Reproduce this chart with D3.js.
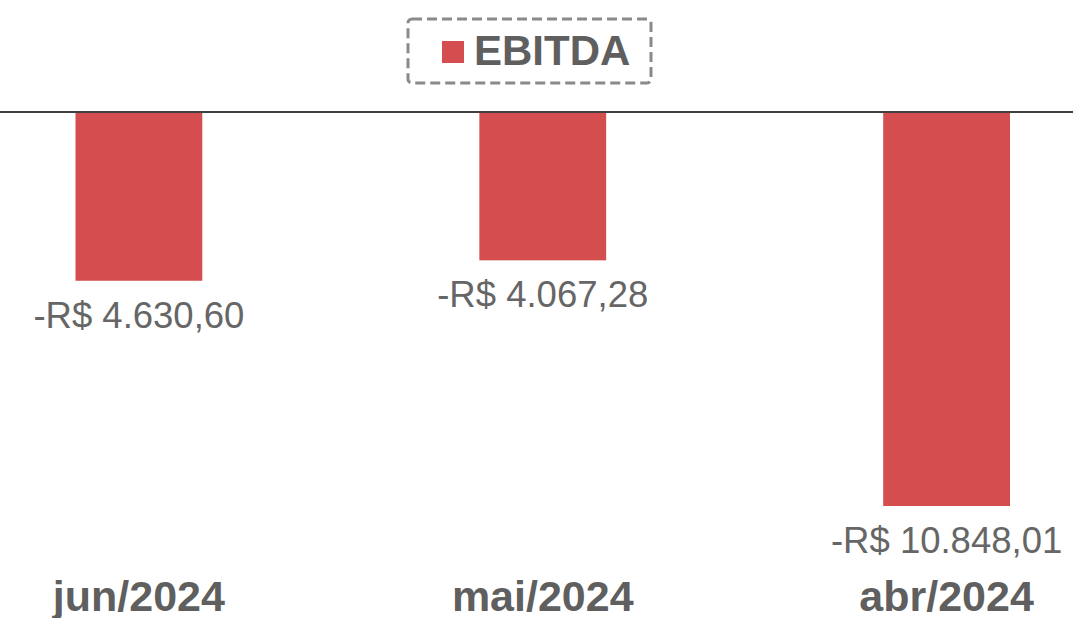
<!DOCTYPE html>
<html>
<head>
<meta charset="utf-8">
<script src="https://cdn.jsdelivr.net/npm/d3@7"></script>
<style>
  html, body { margin: 0; padding: 0; background: #fff; }
  svg { display: block; font-family: "Liberation Sans", Arial, sans-serif; }
</style>
</head>
<body>
<div class="chart"></div>
<script>
// data
var categories = ['jun/2024', 'mai/2024', 'abr/2024'];
var ebitda = [-4630.60, -4067.28, -10848.01];
var seriesName = 'EBITDA';

var width = 1073,
    height = 618;

var svg = d3.select('.chart')
            .append('svg')
            .attr('width', width)
            .attr('height', height);

var x = d3.scaleBand()
          .domain(categories)
          .range([75.5, 1010])
          .paddingInner(0.686)
          .paddingOuter(0);

var y = d3.scaleLinear()
          .domain([0, -10848.01])
          .range([113, 506]);

var fmt = function (v) {
  var s = d3.format(',.2f')(Math.abs(v));
  s = s.replace(/,/g, '#').replace('.', ',').replace(/#/g, '.');
  return (v < 0 ? '-' : '') + 'R$ ' + s;
};

// bars
svg.selectAll('rect.bar')
   .data(ebitda)
   .enter().append('rect')
   .attr('class', 'bar')
   .attr('fill', '#d44e4f')
   .attr('x', function (d, i) { return x(categories[i]); })
   .attr('y', y(0))
   .attr('width', x.bandwidth())
   .attr('height', function (d) { return y(d) - y(0); });

// zero line
svg.append('line')
   .attr('x1', 0)
   .attr('x2', width)
   .attr('y1', y(0) - 1)
   .attr('y2', y(0) - 1)
   .attr('stroke', '#404040')
   .attr('stroke-width', 2);

// value labels
svg.selectAll('text.value')
   .data(ebitda)
   .enter().append('text')
   .attr('class', 'value')
   .attr('x', function (d, i) { return x(categories[i]) + x.bandwidth() / 2; })
   .attr('y', function (d) { return y(d) + 47; })
   .attr('text-anchor', 'middle')
   .attr('fill', '#666')
   .style('font-size', '36.5px')
   .text(fmt);

// category labels
svg.selectAll('text.cat')
   .data(categories)
   .enter().append('text')
   .attr('class', 'cat')
   .attr('x', function (d) { return x(d) + x.bandwidth() / 2; })
   .attr('y', 611)
   .attr('text-anchor', 'middle')
   .attr('fill', '#5f5f5f')
   .style('font-size', '43px')
   .style('font-weight', 'bold')
   .text(function (d) { return d; });

// legend
var legend = svg.append('g');
legend.append('rect')
      .attr('x', 408)
      .attr('y', 19)
      .attr('width', 243)
      .attr('height', 64)
      .attr('rx', 4)
      .attr('fill', 'none')
      .attr('stroke', '#8a8a8a')
      .attr('stroke-width', 3)
      .attr('stroke-dasharray', '10,5');
legend.append('rect')
      .attr('x', 442)
      .attr('y', 41)
      .attr('width', 22)
      .attr('height', 22)
      .attr('fill', '#d44e4f');
legend.append('text')
      .attr('x', 474)
      .attr('y', 65)
      .attr('fill', '#5f5f5f')
      .style('font-size', '42px')
      .style('font-weight', 'bold')
      .text(seriesName);
</script>
</body>
</html>
